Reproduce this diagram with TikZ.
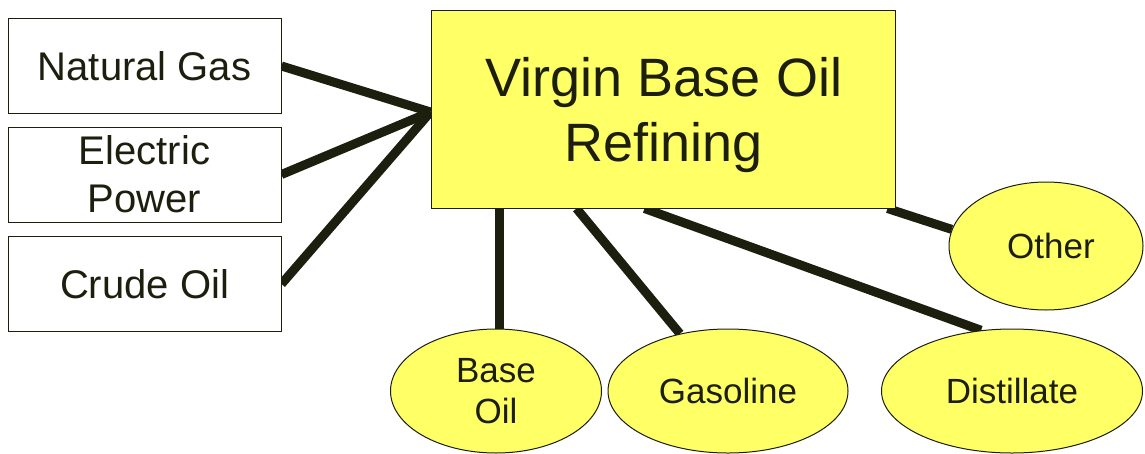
\documentclass[tikz,border=0pt]{standalone}
\usepackage{fontspec}
\setmainfont{Liberation Sans}
\usetikzlibrary{shapes.geometric,backgrounds,calc}
\definecolor{ylw}{HTML}{FFFF66}
\definecolor{ink}{HTML}{1C1E0E}
\tikzset{
  srcbox/.style={draw=ink, line width=1pt, fill=white, minimum width=273pt, minimum height=95pt, inner sep=0pt, align=center, text=ink, font=\fontsize{40}{48}\selectfont},
  mainbox/.style={draw=ink, line width=1pt, fill=ylw, minimum width=464pt, minimum height=198pt, inner sep=0pt},
  maintext/.style={align=center, inner sep=0pt, text=ink, font=\fontsize{54}{65}\selectfont},
  prod/.style={ellipse, draw=ink, line width=1pt, fill=ylw, inner sep=0pt, align=center, text=ink, font=\fontsize{35}{41}\selectfont},
  link/.style={draw=ink, line width=9pt}
}
\begin{document}
\begin{tikzpicture}[x=1pt,y=-1pt]
\useasboundingbox (0,0) rectangle (1145,453);
\node[srcbox] (ng) at (144.5,66) {Natural Gas};
\node[srcbox] (ep) at (144.5,174.5) {Electric\\Power};
\node[srcbox] (co) at (144.5,284) {Crude Oil};
\node[mainbox] (vb) at (663,109) {};
\node[maintext] (vbt) at (664,115) {Virgin Base Oil\\Refining};
\node[prod, minimum width=194pt, minimum height=128pt] (ot) at (1046,246) {\hspace*{10pt}Other};
\node[prod, minimum width=211pt, minimum height=124pt] (bo) at (496,391) {Base\\Oil};
\node[prod, minimum width=240pt, minimum height=124pt] (ga) at (728,391) {Gasoline};
\node[prod, minimum width=261pt, minimum height=124pt] (di) at (1012,391) {Distillate};
\coordinate (vin) at ($(vb.west)+(0,3)$);
\coordinate (b1) at ($(vb.south west)+(69,0)$);
\coordinate (b2) at ($(vb.south west)+(146,0)$);
\coordinate (b3) at ($(vb.south west)+(214,0)$);
\coordinate (b4) at ($(vb.south east)+(-8,0)$);
\begin{scope}[on background layer]
\draw[link] (ng.east) -- (vin);
\draw[link] (ep.east) -- (vin);
\draw[link] (co.east) -- (vin);
\draw[link] (b1) -- (b1 |- bo.north);
\draw[link] (b2) -- (ga.130);
\draw[link] (b3) -- (di.117);
\draw[link] (b4) -- (ot.170);
\end{scope}
\end{tikzpicture}
\end{document}
